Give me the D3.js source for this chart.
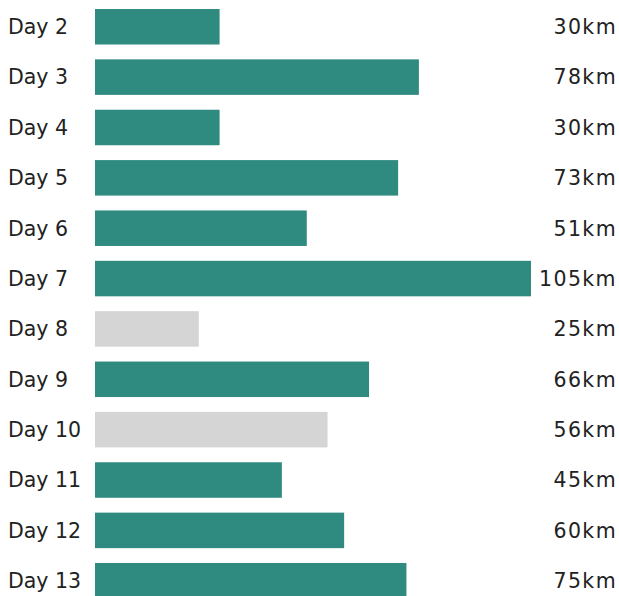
<!DOCTYPE html>
<html>
<head>
<meta charset="utf-8">
<script src="https://cdn.jsdelivr.net/npm/d3@7"></script>
<style>
  html, body { margin: 0; padding: 0; background: #fff; }
  svg { display: block; }
  text { font-family: "DejaVu Sans", sans-serif; fill: #222; }
</style>
</head>
<body>
<div id="chart-area"></div>
<script>
const WIDTH = 619
const HEIGHT = 596

const days = ["Day 2", "Day 3", "Day 4", "Day 5", "Day 6", "Day 7", "Day 8", "Day 9", "Day 10", "Day 11", "Day 12", "Day 13"]
const distances = [30, 78, 30, 73, 51, 105, 25, 66, 56, 45, 60, 75]
// rest days drawn in grey
const restDays = ["Day 8", "Day 10"]

const data = days.map((d, i) => ({ day: d, km: distances[i] }))

const svg = d3.select("#chart-area").append("svg")
  .attr("width", WIDTH)
  .attr("height", HEIGHT)

const x = d3.scaleLinear().domain([0, 105]).range([95, 531])
const y = d3.scaleBand().domain(days).range([9, 598.5]).paddingInner(0.295).paddingOuter(0)

svg.selectAll("rect")
  .data(data)
  .enter()
  .append("rect")
  .attr("x", x(0))
  .attr("y", d => y(d.day))
  .attr("width", d => x(d.km) - x(0))
  .attr("height", y.bandwidth())
  .attr("fill", d => restDays.includes(d.day) ? "#d5d5d5" : "#2f8a7f")

svg.selectAll("text.day")
  .data(data)
  .enter()
  .append("text")
  .attr("class", "day")
  .attr("x", 8)
  .attr("y", d => y(d.day) + y.bandwidth() / 2)
  .attr("dy", "0.36em")
  .style("font-size", "20.5px")
  .text(d => d.day)

svg.selectAll("text.km")
  .data(data)
  .enter()
  .append("text")
  .attr("class", "km")
  .attr("x", 617)
  .attr("y", d => y(d.day) + y.bandwidth() / 2)
  .attr("dy", "0.36em")
  .attr("text-anchor", "end")
  .style("font-size", "20.5px")
  .style("letter-spacing", "1.4px")
  .text(d => d.km + "km")
</script>
</body>
</html>
